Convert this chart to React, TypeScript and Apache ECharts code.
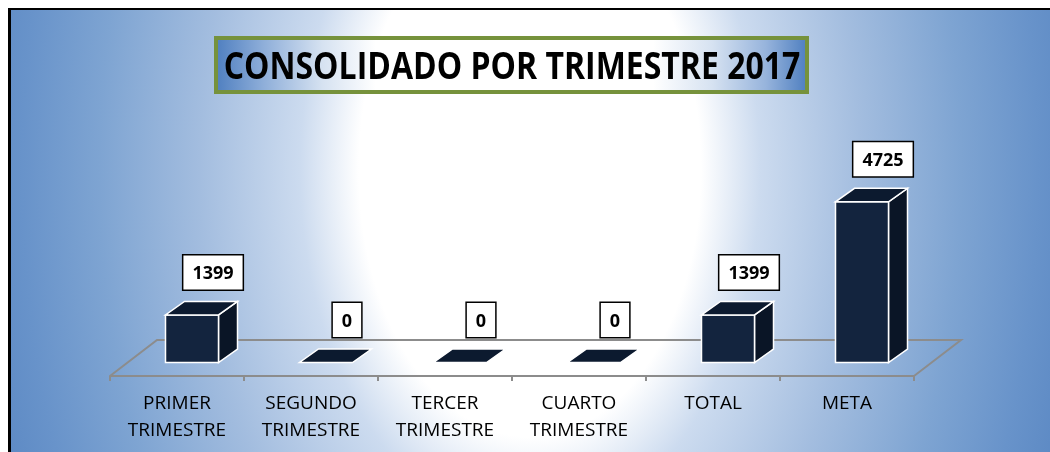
import React, { useEffect, useRef } from "react";
import * as echarts from "echarts";

const categories = [
  "PRIMER\nTRIMESTRE",
  "SEGUNDO\nTRIMESTRE",
  "TERCER\nTRIMESTRE",
  "CUARTO\nTRIMESTRE",
  "TOTAL",
  "META",
];
const values = [1399, 0, 0, 0, 1399, 4725];
const titleText = "CONSOLIDADO POR TRIMESTRE 2017";

const DX = 19;
const DY = 13.5;
const BAR_W = 53;
const SHIFT = 15;
const FLOOR_DX = 47;
const FLOOR_DY = 36;

export default function App() {
  const ref = useRef<HTMLDivElement>(null);

  useEffect(() => {
    document.documentElement.style.overflow = "hidden";
    document.body.style.overflow = "hidden";
    const chart = echarts.init(ref.current!, null, { renderer: "svg" });

    const option: any = {
      animation: false,
      grid: { left: 102, right: 136, top: 198, bottom: 76 },
      xAxis: {
        type: "category",
        data: categories,
        boundaryGap: true,
        axisLine: { show: true, lineStyle: { color: "#8c8c8c", width: 2 } },
        axisTick: { show: true, length: 5, lineStyle: { color: "#8c8c8c", width: 2 } },
        axisLabel: {
          interval: 0,
          margin: 12,
          color: "#000",
          fontFamily: "Open Sans",
          fontSize: 19,
          lineHeight: 27,
        },
        splitLine: { show: false },
      },
      yAxis: { type: "value", min: 0, max: 5000, show: false },
      graphic: [
        {
          type: "rect",
          z: -100,
          silent: true,
          x: 522,
          y: 162,
          scaleY: 1.56,
          shape: { x: -560, y: -120, width: 1120, height: 310 },
          style: {
            fill: new echarts.graphic.RadialGradient(
              0,
              0,
              590,
              [
                { offset: 0, color: "#ffffff" },
                { offset: 0.29, color: "#ffffff" },
                { offset: 0.39, color: "#ccdbef" },
                { offset: 0.56, color: "#a3bddf" },
                { offset: 0.73, color: "#7ea4d2" },
                { offset: 0.86, color: "#6893ca" },
                { offset: 1, color: "#5583c0" },
              ],
              true
            ),
          },
        },
        {
          type: "rect",
          z: 50,
          silent: true,
          shape: { x: 0, y: 0, width: 3, height: 444 },
          style: { fill: "#000" },
        },
        {
          type: "rect",
          z: 50,
          silent: true,
          shape: { x: 0, y: 0, width: 1042, height: 2 },
          style: { fill: "#000" },
        },
        {
          type: "rect",
          z: 20,
          silent: true,
          shape: { x: 208, y: 30, width: 591, height: 54 },
          style: {
            fill: new echarts.graphic.LinearGradient(0, 0, 1, 0, [
              { offset: 0, color: "#4f7fc0" },
              { offset: 0.08, color: "#8eaed9" },
              { offset: 0.18, color: "#d6e2f1" },
              { offset: 0.27, color: "#ffffff" },
              { offset: 0.74, color: "#ffffff" },
              { offset: 0.84, color: "#d6e2f1" },
              { offset: 0.93, color: "#97b4dc" },
              { offset: 1, color: "#4f7fc0" },
            ]),
            stroke: "#76923c",
            lineWidth: 4,
          },
        },
        {
          type: "text",
          z: 21,
          silent: true,
          x: 504,
          y: 56,
          scaleY: 1.18,
          style: {
            text: titleText,
            font: 'bold 32px "Open Sans"',
            fill: "#000",
            align: "center",
            verticalAlign: "middle",
          },
        },
      ],
      series: [
        {
          type: "custom",
          z: 1,
          silent: true,
          data: [[0, 0]],
          encode: { x: 0, y: 1 },
          renderItem: (params: any, api: any) => {
            const bw = api.size([1, 0])[0];
            const pA = api.coord([0, 0]);
            const pB = api.coord([categories.length - 1, 0]);
            const x0 = pA[0] - bw / 2;
            const x1 = pB[0] + bw / 2;
            const y = pA[1];
            return {
              type: "polyline",
              shape: {
                points: [
                  [x0, y],
                  [x0 + FLOOR_DX, y - FLOOR_DY],
                  [x1 + FLOOR_DX, y - FLOOR_DY],
                  [x1, y],
                ],
              },
              style: { stroke: "#8c8c8c", lineWidth: 2, fill: "none" },
            };
          },
        },
        {
          type: "custom",
          z: 5,
          data: values.map((v, i) => [i, v]),
          encode: { x: 0, y: 1 },
          renderItem: (params: any, api: any) => {
            const idx = api.value(0);
            const v = api.value(1);
            const p0 = api.coord([idx, 0]);
            const p1 = api.coord([idx, v]);
            const h = p0[1] - p1[1];
            const cx = p0[0];
            const base = p0[1] - DY;
            const fl = cx + SHIFT - BAR_W / 2;
            const fr = fl + BAR_W;
            const top = base - h;
            const edge = { stroke: "#ffffff", lineWidth: 1.5 };
            const children: any[] = [];
            if (h > 0) {
              children.push({
                type: "polygon",
                shape: {
                  points: [
                    [fr, base],
                    [fr, top],
                    [fr + DX, top - DY],
                    [fr + DX, base - DY],
                  ],
                },
                style: { fill: "#0a1526", ...edge },
              });
              children.push({
                type: "rect",
                shape: { x: fl, y: top, width: BAR_W, height: h },
                style: { fill: "#13243e", ...edge },
              });
            }
            children.push({
              type: "polygon",
              shape: {
                points: [
                  [fl, top],
                  [fr, top],
                  [fr + DX, top - DY],
                  [fl + DX, top - DY],
                ],
              },
              style: { fill: "#0c1a2f", ...edge },
            });
            children.push({
              type: "text",
              x: cx + SHIFT + DX + 2,
              y: top - DY - 12,
              style: {
                text: String(v),
                font: 'bold 18px "Open Sans"',
                fill: "#000",
                align: "center",
                verticalAlign: "bottom",
                backgroundColor: "#ffffff",
                borderColor: "#000000",
                borderWidth: 1.5,
                padding: [7, 9, 7, 9],
                lineHeight: 20,
              },
            });
            return { type: "group", children };
          },
        },
      ],
    };

    chart.setOption(option);
    return () => chart.dispose();
  }, []);

  return (
    <div
      style={{
        position: "fixed",
        left: 8,
        top: 8,
        width: 1042,
        height: 444,
        overflow: "hidden",
      }}
    >
      <div ref={ref} style={{ width: 1042, height: 444 }} />
    </div>
  );
}
